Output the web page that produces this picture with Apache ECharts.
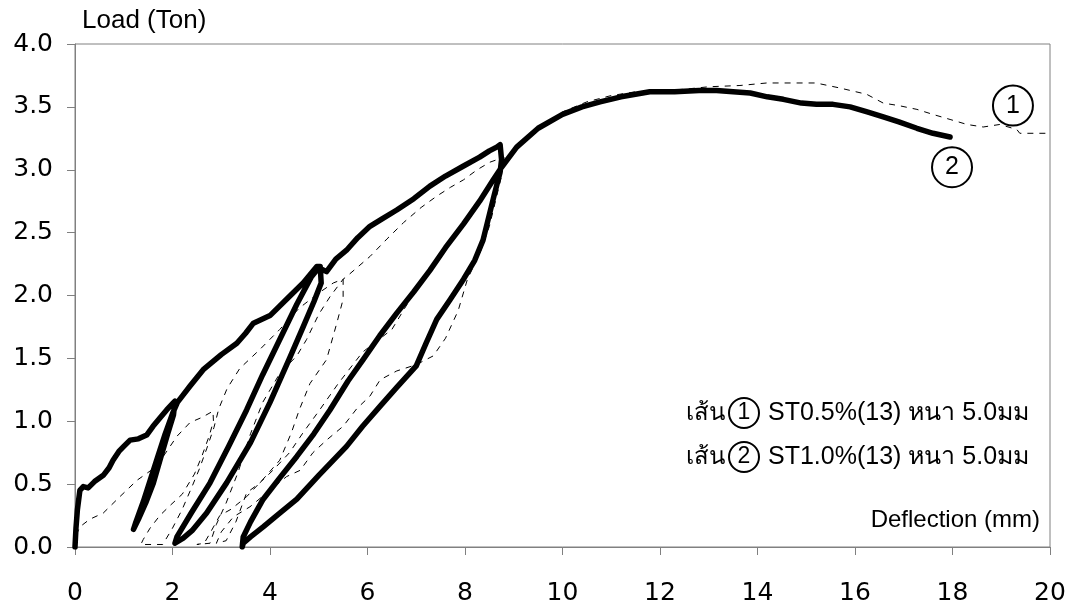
<!DOCTYPE html>
<html>
<head>
<meta charset="utf-8">
<script src="https://cdn.jsdelivr.net/npm/echarts@6/dist/echarts.min.js"></script>
<style>
  html, body { margin: 0; padding: 0; background: #fff; }
  #chart { width: 1075px; height: 602px; }
</style>
</head>
<body>
<div id="chart"></div>
<script>
// Axis ticks
const xTicks = [0, 2, 4, 6, 8, 10, 12, 14, 16, 18, 20];
const yTicks = [0.0, 0.5, 1.0, 1.5, 2.0, 2.5, 3.0, 3.5, 4.0];

// Specimen names
const seriesNames = ['ST0.5%(13) หนา 5.0มม', 'ST1.0%(13) หนา 5.0มม'];

// Line 1: ST0.5%(13), cyclic load [deflection mm, load ton]
const st05 = [
  [0, 0], [0.03, 0.1], [0.1, 0.16], [0.3, 0.22], [0.58, 0.27], [0.92, 0.4], [1.27, 0.53],
  [1.67, 0.64], [2.09, 0.88], [2.36, 0.99], [2.6, 1.03], [2.83, 1.08],
  // cycle 1 unload / reload
  [2.84, 1.0], [2.75, 0.88], [2.6, 0.72], [2.45, 0.58], [2.2, 0.42], [1.95, 0.33], [1.74, 0.25],
  [1.54, 0.15], [1.4, 0.06], [1.35, 0.02], [1.8, 0.02],
  [2.0, 0.15], [2.2, 0.3], [2.4, 0.48], [2.55, 0.62], [2.7, 0.78], [2.85, 0.95], [2.95, 1.1],
  [3.12, 1.26], [3.38, 1.42], [3.79, 1.57], [4.2, 1.73], [4.6, 1.9], [5.0, 2.02], [5.3, 2.1], [5.5, 2.13],
  // cycle 2 unload / reload
  [5.5, 1.97], [5.37, 1.78], [5.16, 1.49], [4.82, 1.3], [4.6, 1.09], [4.44, 0.91], [4.2, 0.69],
  [3.86, 0.54], [3.52, 0.4], [3.2, 0.3], [2.97, 0.25], [2.77, 0.11], [2.65, 0.03], [2.5, 0.02],
  [2.77, 0.03], [2.9, 0.18], [3.1, 0.35], [3.35, 0.6], [3.6, 0.9], [3.85, 1.15], [4.2, 1.38],
  [4.55, 1.52], [4.75, 1.65], [5.0, 1.85], [5.23, 1.99], [5.5, 2.13], [5.57, 2.15],
  [6.05, 2.31], [6.4, 2.45], [6.74, 2.58], [7.1, 2.7], [7.42, 2.79], [7.7, 2.86], [7.97, 2.92],
  [8.25, 3.0], [8.51, 3.06], [8.8, 3.1],
  // cycle 3 unload / reload
  [8.75, 2.95], [8.5, 2.55], [8.3, 2.33], [8.05, 2.13], [7.86, 1.88], [7.6, 1.66], [7.35, 1.52],
  [7.0, 1.45], [6.6, 1.4], [6.26, 1.33], [6.05, 1.2], [5.78, 1.1], [5.5, 0.96], [5.16, 0.85],
  [4.88, 0.75], [4.62, 0.61], [4.34, 0.56], [3.9, 0.42], [3.59, 0.32], [3.25, 0.24], [3.0, 0.12],
  [2.9, 0.03],
  [3.1, 0.05], [3.3, 0.2], [3.52, 0.43], [3.79, 0.51], [4.06, 0.61], [4.4, 0.75], [4.68, 0.91],
  [5.0, 1.08], [5.4, 1.3], [5.9, 1.55], [6.5, 1.73], [7.0, 2.05], [7.5, 2.31], [8.0, 2.58],
  [8.4, 2.82], [8.7, 3.0], [9.06, 3.16],
  // monotonic to failure
  [9.5, 3.32], [10.0, 3.46], [10.5, 3.54], [11.0, 3.59], [11.5, 3.62], [12.0, 3.63], [12.5, 3.64],
  [13.0, 3.66], [13.64, 3.67], [14.19, 3.69], [14.7, 3.69], [15.2, 3.69], [15.69, 3.65],
  [16.24, 3.6], [16.58, 3.53], [16.9, 3.51], [17.27, 3.48], [17.6, 3.44], [17.95, 3.4],
  [18.3, 3.36], [18.63, 3.34], [18.97, 3.36], [19.32, 3.32], [19.38, 3.29], [20.0, 3.29]
];

// Line 2: ST1.0%(13), cyclic load [deflection mm, load ton]
const st10 = [
  [0, 0], [0.02, 0.15], [0.05, 0.3], [0.1, 0.45], [0.17, 0.48], [0.27, 0.47], [0.4, 0.52],
  [0.58, 0.57], [0.7, 0.63], [0.78, 0.69], [0.9, 0.76], [1.0, 0.8], [1.13, 0.85], [1.3, 0.86],
  [1.47, 0.89], [1.6, 0.96], [1.75, 1.03], [1.88, 1.09], [2.0, 1.14], [2.05, 1.16],
  // cycle 1 unload / reload
  [2.02, 1.05], [1.9, 0.9], [1.75, 0.7], [1.6, 0.5], [1.45, 0.35], [1.3, 0.22], [1.2, 0.14],
  [1.25, 0.2], [1.4, 0.36], [1.55, 0.54], [1.7, 0.72], [1.85, 0.9], [2.0, 1.06], [2.1, 1.15],
  [2.2, 1.2], [2.36, 1.28], [2.63, 1.41], [3.0, 1.53], [3.32, 1.62], [3.5, 1.7], [3.66, 1.78],
  [4.0, 1.84], [4.34, 1.97], [4.68, 2.1], [4.96, 2.23], [5.03, 2.23],
  // cycle 2 unload / reload
  [5.05, 2.1], [4.9, 1.95], [4.68, 1.75], [4.4, 1.5], [4.0, 1.15], [3.6, 0.83], [3.11, 0.51],
  [2.7, 0.27], [2.4, 0.13], [2.22, 0.07], [2.05, 0.03],
  [2.09, 0.08], [2.4, 0.28], [2.77, 0.51], [3.15, 0.8], [3.52, 1.09], [3.85, 1.37], [4.2, 1.65],
  [4.55, 1.93], [4.85, 2.15], [5.0, 2.22], [5.16, 2.19],
  [5.35, 2.29], [5.57, 2.36], [5.8, 2.46], [6.05, 2.55], [6.3, 2.61], [6.6, 2.68], [6.95, 2.77],
  [7.28, 2.87], [7.6, 2.95], [7.97, 3.03], [8.3, 3.1], [8.5, 3.15], [8.65, 3.18], [8.72, 3.2],
  // cycle 3 unload / reload
  [8.75, 3.08], [8.72, 2.98], [8.6, 2.8], [8.37, 2.44], [8.2, 2.28], [7.97, 2.13], [7.7, 1.97],
  [7.42, 1.81], [7.2, 1.62], [7.0, 1.44], [6.6, 1.27], [6.26, 1.12], [5.9, 0.96], [5.57, 0.8],
  [5.0, 0.57], [4.55, 0.38], [4.2, 0.27], [3.86, 0.16], [3.6, 0.08], [3.45, 0.03], [3.43, 0.0],
  [3.45, 0.08], [3.6, 0.2], [3.86, 0.38], [4.2, 0.55], [4.55, 0.72], [4.9, 0.9], [5.23, 1.09],
  [5.6, 1.32], [5.91, 1.49], [6.25, 1.68], [6.6, 1.86], [6.95, 2.03], [7.28, 2.2], [7.6, 2.38],
  [7.97, 2.57], [8.3, 2.75], [8.58, 2.92], [8.75, 3.02],
  // monotonic to failure
  [9.06, 3.18], [9.5, 3.33], [10.0, 3.44], [10.4, 3.5], [10.77, 3.54], [11.2, 3.58],
  [11.79, 3.62], [12.3, 3.62], [12.8, 3.63], [13.16, 3.63], [13.5, 3.62], [13.85, 3.61],
  [14.2, 3.58], [14.53, 3.56], [14.9, 3.53], [15.21, 3.52], [15.55, 3.52], [15.9, 3.5],
  [16.25, 3.46], [16.58, 3.42], [16.9, 3.38], [17.27, 3.33], [17.6, 3.29], [17.95, 3.26]
];

const TEXT_FONT = '"Liberation Sans", Arial, "Noto Sans", sans-serif';
const TICK_FONT = '"DejaVu Sans", Verdana, sans-serif';
const AXIS_GREY = '#808080';

const chart = echarts.init(document.getElementById('chart'), null, { renderer: 'canvas' });

function circleMark(coord, num) {
  return {
    coord: coord,
    symbol: 'circle',
    symbolSize: 40,
    itemStyle: { color: 'rgba(0,0,0,0)', borderColor: '#000', borderWidth: 2 },
    label: { show: true, position: 'inside', formatter: num, color: '#000',
             fontSize: 25, fontFamily: TEXT_FONT }
  };
}

// legend rows: "เส้น (n) name"
function legendRow(y, num, name) {
  return [
    { type: 'text', x: 725, y: y,
      style: { text: 'เส้น', font: '24px ' + TEXT_FONT, fill: '#000', align: 'right', verticalAlign: 'middle' } },
    { type: 'circle', shape: { cx: 744, cy: y, r: 15 },
      style: { fill: 'none', stroke: '#000', lineWidth: 2 } },
    { type: 'text', x: 744, y: y,
      style: { text: num, font: '23px ' + TEXT_FONT, fill: '#000', align: 'center', verticalAlign: 'middle' } },
    { type: 'text', x: 768, y: y,
      style: { text: name, font: '25px ' + TEXT_FONT, fill: '#000', verticalAlign: 'middle' } }
  ];
}

const option = {
  animation: false,
  backgroundColor: '#fff',
  grid: { left: 75, right: 25, top: 44, bottom: 55, show: true, containLabel: false,
          outerBoundsMode: 'none',
          borderColor: AXIS_GREY, borderWidth: 1, backgroundColor: 'transparent' },
  xAxis: {
    type: 'value', min: xTicks[0], max: xTicks[xTicks.length - 1], interval: 2,
    axisLine: { show: true, lineStyle: { color: AXIS_GREY, width: 1 } },
    axisTick: { show: true, inside: false, length: 8, lineStyle: { color: AXIS_GREY } },
    axisLabel: { margin: 34, color: '#000', fontSize: 25, fontFamily: TICK_FONT },
    splitLine: { show: false }
  },
  yAxis: {
    type: 'value', min: yTicks[0], max: yTicks[yTicks.length - 1], interval: 0.5,
    axisLine: { show: true, lineStyle: { color: AXIS_GREY, width: 1 } },
    axisTick: { show: true, inside: false, length: 8, lineStyle: { color: AXIS_GREY } },
    axisLabel: { margin: 22, color: '#000', fontSize: 25, fontFamily: TICK_FONT,
                 formatter: v => v.toFixed(1) },
    splitLine: { show: false }
  },
  series: [
    {
      name: seriesNames[0], type: 'line', data: st05, showSymbol: false, smooth: false,
      lineStyle: { color: '#000', width: 1, type: [6, 6] },
      z: 3,
      markPoint: { silent: true, data: [circleMark([19.24, 3.51], '1')] }
    },
    {
      name: seriesNames[1], type: 'line', data: st10, showSymbol: false, smooth: false,
      lineStyle: { color: '#000', width: 5.5, join: 'round', cap: 'round' },
      z: 2,
      markPoint: { silent: true, data: [circleMark([17.99, 3.02], '2')] }
    }
  ],
  graphic: [
    { type: 'text', left: 82, top: 8,
      style: { text: 'Load (Ton)', font: '26px ' + TEXT_FONT, fill: '#000' } },
    { type: 'text', right: 1075 - 1040, top: 508,
      style: { text: 'Deflection (mm)', font: '24px ' + TEXT_FONT, fill: '#000' } }
  ].concat(legendRow(413, '1', seriesNames[0]), legendRow(457, '2', seriesNames[1]))
};

chart.setOption(option);
</script>
</body>
</html>
